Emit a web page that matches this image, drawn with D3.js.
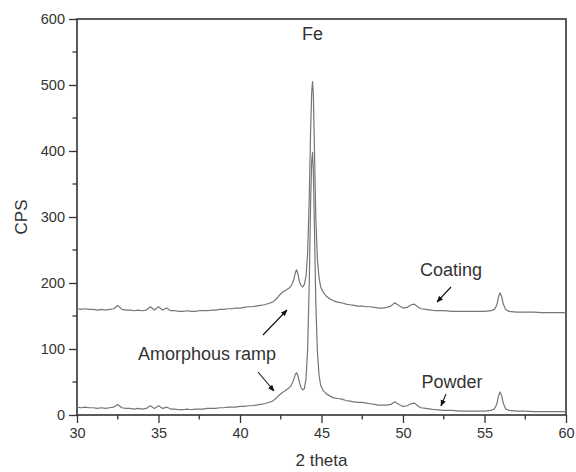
<!DOCTYPE html>
<html><head><meta charset="utf-8">
<script src="https://cdn.jsdelivr.net/npm/d3@7/dist/d3.min.js"></script>
<style>body{margin:0;background:#fff}svg{display:block}text{font-family:"Liberation Sans",Arial,sans-serif;fill:#333}</style>
</head><body>
<script>
const twoTheta = [30,30.25,30.5,30.75,31,31.25,31.5,31.75,32,32.25,32.5,32.75,33,33.25,33.5,33.75,34,34.25,34.5,34.75,35,35.25,35.5,35.75,36,36.25,36.5,36.75,37,37.25,37.5,37.75,38,38.25,38.5,38.75,39,39.25,39.5,39.75,40,40.25,40.5,40.75,41,41.25,41.5,41.75,42,42.2,42.4,42.6,42.8,43,43.15,43.3,43.4,43.47,43.55,43.65,43.75,43.85,43.95,44.05,44.15,44.25,44.33,44.4,44.45,44.5,44.57,44.65,44.75,44.85,44.95,45.1,45.3,45.5,45.75,46,46.25,46.5,46.75,47,47.25,47.5,47.75,48,48.25,48.5,48.75,49,49.25,49.5,49.75,50,50.25,50.5,50.7,50.9,51.1,51.4,51.7,52,52.5,53,53.5,54,54.5,55,55.4,55.6,55.75,55.85,55.95,56.05,56.15,56.3,56.5,57,57.5,58,58.5,59,59.5,60];
const coating = [161,160,161,160,160,159,160,159,160,161,166,160,159,159,158,159,158,159,164,159,164,159,162,158,158,157,157,158,157,157,158,158,158,159,159,160,160,161,161,162,162,163,164,164,165,166,167,169,171,175,181,186,189,192,196,205,216,220,214,202,196,194,198,210,245,330,430,490,505,485,400,300,235,208,194,186,180,176,173,171,170,168,167,166,165,165,164,164,163,162,162,163,165,170,166,162,163,167,168,164,161,160,159,158,158,157,157,157,157,157,158,160,166,178,185,180,168,160,157,156,156,156,155,155,155,155];
const powder = [12,11,12,11,11,10,11,10,11,12,16,11,10,10,9,10,9,10,14,10,14,10,12,9,9,8,8,9,8,9,9,9,10,10,10,11,11,12,12,12,13,13,14,14,15,16,17,19,21,25,30,34,37,41,45,54,62,64,60,49,41,38,40,55,100,200,320,385,398,370,280,170,95,60,45,37,32,29,26,25,24,22,21,20,19,19,18,17,16,15,15,15,16,20,16,13,14,17,18,14,11,10,9,8,7,7,6,6,6,6,7,9,16,28,35,30,18,9,7,6,6,5,5,5,5,5];
const xTicks = [30,35,40,45,50,55,60];
const yTicks = [0,100,200,300,400,500,600];

const W = 576, H = 472;
const m = {l:77, r:10, t:19, b:57};
const svg = d3.select("body").append("svg").attr("width",W).attr("height",H);
const x = d3.scaleLinear().domain([30,60]).range([m.l, W-m.r]);
const y = d3.scaleLinear().domain([0,600]).range([H-m.b, m.t]);

const axCol = "#333";
const xMinor = d3.range(32.5,60,5);
const yMinor = d3.range(50,600,100);
svg.append("g").selectAll("line").data(xMinor).join("line")
  .attr("x1",d=>x(d)).attr("x2",d=>x(d)).attr("y1",y(0)).attr("y2",y(0)+4.5)
  .attr("stroke",axCol).attr("stroke-width",1.3);
svg.append("g").selectAll("line").data(yMinor).join("line")
  .attr("y1",d=>y(d)).attr("y2",d=>y(d)).attr("x1",x(30)).attr("x2",x(30)-4.5)
  .attr("stroke",axCol).attr("stroke-width",1.3);

const xAxis = svg.append("g").attr("transform",`translate(0,${y(0)})`)
  .call(d3.axisBottom(x).tickValues(xTicks).tickSize(8).tickPadding(5).tickFormat(d3.format("d")));
const yAxis = svg.append("g").attr("transform",`translate(${x(30)},0)`)
  .call(d3.axisLeft(y).tickValues(yTicks).tickSize(8).tickPadding(4).tickFormat(d3.format("d")));
[xAxis,yAxis].forEach(g=>{
  g.select(".domain").remove();
  g.selectAll(".tick line").attr("stroke",axCol).attr("stroke-width",1.3);
  g.selectAll(".tick text").attr("font-size","14.5px").attr("fill","#333")
   .attr("font-family","Liberation Sans, Arial, sans-serif");
});

svg.append("rect").attr("x",x(30)).attr("y",y(600)).attr("width",x(60)-x(30)).attr("height",y(0)-y(600))
  .attr("fill","none").attr("stroke",axCol).attr("stroke-width",1.6);

const line = d3.line().x((d,i)=>x(twoTheta[i])).y(d=>y(d));
[coating,powder].forEach(s=>{
  svg.append("path").datum(s).attr("d",line).attr("fill","none")
    .attr("stroke","#767676").attr("stroke-width",1.2).attr("stroke-linejoin","round");
});

svg.append("text").attr("x",(x(30)+x(60))/2).attr("y",466).attr("text-anchor","middle")
  .attr("font-size","17px").text("2 theta");
svg.append("text").attr("transform",`translate(27,${(y(0)+y(600))/2}) rotate(-90)`)
  .attr("text-anchor","middle").attr("font-size","17px").text("CPS");

svg.append("defs").append("marker").attr("id","ah").attr("viewBox","0 0 10 10")
  .attr("refX",9).attr("refY",5).attr("markerWidth",6).attr("markerHeight",6).attr("orient","auto")
  .append("path").attr("d","M0,1 L10,5 L0,9 Z").attr("fill","#111");
const ann = (t,xx,yy)=>svg.append("text").attr("x",xx).attr("y",yy).attr("text-anchor","middle")
  .attr("font-size","18px").attr("fill","#222").text(t);
ann("Fe", x(44.45), 40);
ann("Coating", 451, 276);
ann("Powder", 452, 388);
ann("Amorphous ramp", 207, 360);
const arrow = (x1,y1,x2,y2)=>svg.append("line").attr("x1",x1).attr("y1",y1).attr("x2",x2).attr("y2",y2)
  .attr("stroke","#111").attr("stroke-width",1.1).attr("marker-end","url(#ah)");
arrow(451,287,437,302);
arrow(446,394,441,406);
arrow(263,335,287,310);
arrow(258,372,274,391);
</script>
</body></html>
